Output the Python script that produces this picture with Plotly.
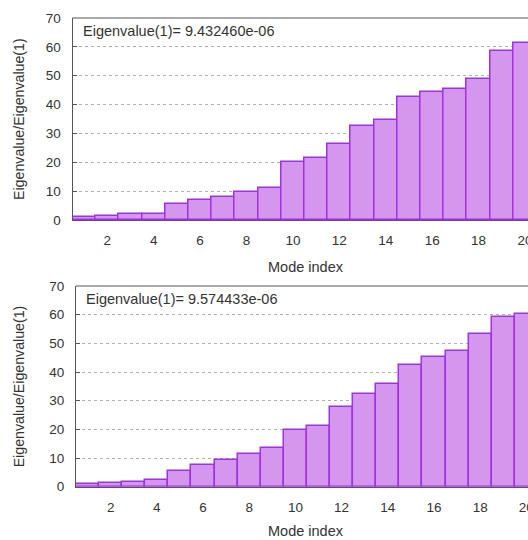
import plotly.graph_objects as go

# Mode indices and normalised eigenvalue ratios for the two cases
modes = list(range(1, 21))
ratio_a = [1.0, 1.4, 2.0, 2.2, 5.4, 7.1, 7.9, 9.7, 11.2, 20.0,
           21.4, 26.4, 32.6, 34.8, 42.6, 44.2, 45.5, 48.8, 58.7, 61.2]
ratio_b = [1.0, 1.4, 1.7, 2.3, 5.6, 7.6, 9.2, 11.3, 13.4, 19.7,
           21.0, 27.7, 32.3, 35.9, 42.4, 45.1, 47.4, 53.2, 59.1, 60.3]
labels = ["Eigenvalue(1)= 9.432460e-06", "Eigenvalue(1)= 9.574433e-06"]
y_ticks = [0, 10, 20, 30, 40, 50, 60, 70]
x_ticks = [2, 4, 6, 8, 10, 12, 14, 16, 18, 20]

W, H = 528, 540
FONT = "Liberation Sans, Arial, sans-serif"
FILL = "#d596ee"
EDGE = "#a22ee6"
FRAME = "#555555"
TEXT = "#333333"

fig = go.Figure()

panels = [
    # (values, label, left px, top px, bottom px, x range end, title offset)
    (ratio_a, labels[0], 72.5, 18, 220, 20.13, 47),
    (ratio_b, labels[1], 76.0, 286, 486.7, 20.07, 44),
]

for i, (vals, lab, left, top, bottom, xend, toff) in enumerate(panels, start=1):
    xa = "x" if i == 1 else f"x{i}"
    ya = "y" if i == 1 else f"y{i}"
    fig.add_trace(go.Bar(
        x=modes, y=vals, width=1.0,
        marker=dict(color=FILL, line=dict(color=EDGE, width=1.5)),
        xaxis=xa, yaxis=ya, showlegend=False, hoverinfo="x+y",
    ))
    xdom = [left / W, 1.0]
    ydom = [1 - bottom / H, 1 - top / H]
    xkey = "xaxis" if i == 1 else f"xaxis{i}"
    ykey = "yaxis" if i == 1 else f"yaxis{i}"
    fig.layout[xkey] = dict(
        domain=xdom, range=[0.5, xend], anchor=ya, automargin=False,
        tickmode="array", tickvals=x_ticks, ticks="",
        showgrid=False, zeroline=False,
        showline=True, linecolor=FRAME, linewidth=1.2,
        tickfont=dict(family=FONT, size=13.5, color=TEXT),
        ticklabelstandoff=8, ticklabeloverflow="allow",
    )
    fig.layout[ykey] = dict(
        domain=ydom, range=[0, 70], anchor=xa, automargin=False,
        tickmode="array", tickvals=y_ticks,
        ticks="inside", ticklen=4, tickcolor=FRAME,
        showgrid=True, gridcolor="#b0b0b0", griddash="dot", gridwidth=1,
        zeroline=False,
        showline=True, linecolor=FRAME, linewidth=1.2,
        tickfont=dict(family=FONT, size=13.5, color=TEXT),
        ticklabelstandoff=8, ticklabeloverflow="allow",
    )
    # top border of the frame
    fig.add_shape(type="line", xref="paper", yref="paper",
                  x0=xdom[0], x1=1.0, y0=ydom[1], y1=ydom[1],
                  line=dict(color=FRAME, width=1.2))
    # eigenvalue label in the upper-left corner of the frame
    fig.add_annotation(text=lab, xref="paper", yref="paper",
                       x=(left + 8) / W, y=1 - (top + 13) / H,
                       xanchor="left", yanchor="middle", showarrow=False,
                       font=dict(family=FONT, size=14.5, color=TEXT))
    # axis titles
    fig.add_annotation(text="Eigenvalue/Eigenvalue(1)", xref="paper", yref="paper",
                       x=19 / W, y=1 - (top + bottom) / 2 / H,
                       xanchor="center", yanchor="middle", textangle=-90,
                       showarrow=False,
                       font=dict(family=FONT, size=14.2, color=TEXT))
    fig.add_annotation(text="Mode index", xref="paper", yref="paper",
                       x=306 / W, y=1 - (bottom + toff) / H,
                       xanchor="center", yanchor="middle", showarrow=False,
                       font=dict(family=FONT, size=14.5, color=TEXT))

fig.update_layout(
    width=W, height=H,
    margin=dict(l=0, r=0, t=0, b=0),
    paper_bgcolor="white", plot_bgcolor="white",
    bargap=0,
)

fig.write_html("out.html")
